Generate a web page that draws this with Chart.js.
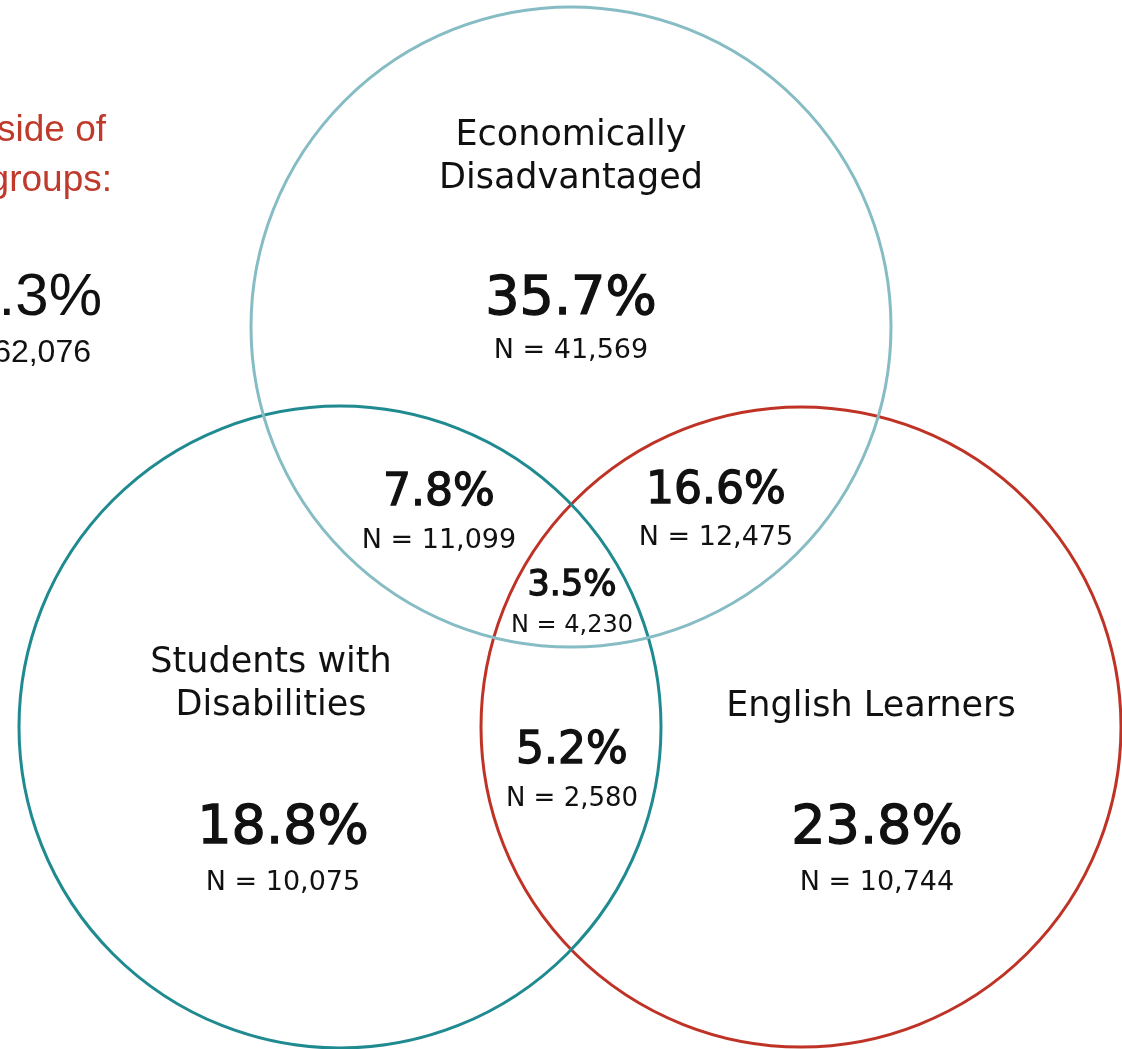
<!DOCTYPE html>
<html lang="en">
<head>
    <meta charset="UTF-8">
    <title>Student Groups Venn Diagram</title>
    <script src="https://cdn.jsdelivr.net/npm/chart.js@4.4.0/dist/chart.umd.min.js"></script>
    <style>
        html, body {
            margin: 0;
            padding: 0;
            background: #fff;
            overflow: hidden;
        }
        #venn {
            display: block;
        }
    </style>
</head>
<body>
    <canvas id="venn" width="1122" height="1049"></canvas>

    <script>
        // Circles (centre x, centre y, radius in page units)
        const groupNames = ['Economically Disadvantaged', 'Students with Disabilities', 'English Learners'];
        const groupX = [571, 340, 801];
        const groupY = [327, 727, 727];
        const groupR = [320, 321, 320];
        const groupColors = ['#86bcc4', '#1f8a90', '#bf3326'];

        // Region values: single groups, then overlaps
        const regionPct = ['35.7%', '18.8%', '23.8%', '7.8%', '16.6%', '5.2%', '3.5%'];
        const regionN = ['41,569', '10,075', '10,744', '11,099', '12,475', '2,580', '4,230'];

        // Students in none of the groups
        const outsideTitle = ['Students outside of', 'these groups:'];
        const outsidePct = '15.3%';
        const outsideN = '62,076';

        // Label layout
        const titleLines = [['Economically', 'Disadvantaged'], ['Students with', 'Disabilities'], ['English Learners']];
        const titleX = [571, 271, 871];
        const titleY = [145, 672, 716];
        const regionX = [571, 283, 877, 439, 716, 572, 572];
        const regionY = [314, 843, 843, 505, 503, 763, 595];
        const regionSize = [54, 54, 54, 44, 44, 44, 35];
        const nSize = [27, 27, 27, 27, 27, 26, 24];
        const nGap = [44, 47, 47, 43, 42, 43, 37];

        const FONT = '"DejaVu Sans", Roboto, sans-serif';

        const labelPlugin = {
            id: 'vennLabels',
            afterDatasetsDraw(chart) {
                const ctx = chart.ctx;
                const xs = chart.scales.x;
                const ys = chart.scales.y;
                ctx.save();
                ctx.textBaseline = 'alphabetic';
                ctx.textAlign = 'center';
                ctx.fillStyle = '#111';
                ctx.strokeStyle = '#111';

                // group titles
                titleLines.forEach((lines, i) => {
                    ctx.font = '35px ' + FONT;
                    lines.forEach((t, j) => {
                        ctx.fillText(t, xs.getPixelForValue(titleX[i]), ys.getPixelForValue(titleY[i] + j * 43));
                    });
                });

                // percentages and counts
                regionPct.forEach((p, i) => {
                    const px = xs.getPixelForValue(regionX[i]);
                    const py = ys.getPixelForValue(regionY[i]);
                    ctx.font = regionSize[i] + 'px ' + FONT;
                    ctx.lineWidth = 1.3;
                    ctx.fillText(p, px, py);
                    ctx.strokeText(p, px, py);
                    ctx.font = nSize[i] + 'px ' + FONT;
                    ctx.fillText('N = ' + regionN[i], px, ys.getPixelForValue(regionY[i] + nGap[i]));
                });

                // outside block, cut by the left edge
                ctx.textAlign = 'right';
                ctx.fillStyle = '#bf3a2b';
                ctx.font = '37px "Liberation Sans", Arial, sans-serif';
                ctx.fillText(outsideTitle[0], xs.getPixelForValue(106), ys.getPixelForValue(141));
                ctx.fillText(outsideTitle[1], xs.getPixelForValue(112), ys.getPixelForValue(191));
                ctx.fillStyle = '#111';
                ctx.font = '60px "Liberation Sans", Arial, sans-serif';
                ctx.fillText(outsidePct, xs.getPixelForValue(102), ys.getPixelForValue(315));
                ctx.font = '32px "Liberation Sans", Arial, sans-serif';
                ctx.fillText('N = ' + outsideN, xs.getPixelForValue(91), ys.getPixelForValue(362));
                ctx.restore();
            }
        };

        new Chart(document.getElementById('venn'), {
            type: 'bubble',
            data: {
                datasets: groupNames.map((name, i) => ({
                    label: name,
                    data: [{ x: groupX[i], y: groupY[i], r: groupR[i] }],
                    backgroundColor: 'rgba(0,0,0,0)',
                    borderColor: groupColors[i],
                    borderWidth: 3,
                    hoverBorderWidth: 3,
                    clip: false
                }))
            },
            options: {
                responsive: false,
                animation: false,
                devicePixelRatio: 1,
                layout: { padding: 0, autoPadding: false },
                events: [],
                plugins: {
                    legend: { display: false },
                    tooltip: { enabled: false }
                },
                scales: {
                    x: { type: 'linear', min: 0, max: 1122, display: false },
                    y: { type: 'linear', min: 0, max: 1049, reverse: true, display: false }
                }
            },
            plugins: [labelPlugin]
        });
    </script>
</body>
</html>
